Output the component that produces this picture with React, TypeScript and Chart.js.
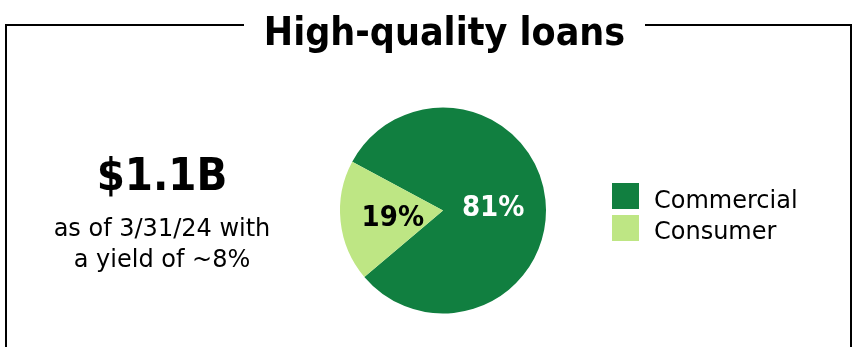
import React, { useEffect, useRef } from "react";
import { Chart, registerables } from "chart.js";

Chart.register(...registerables);

const title = "High-quality loans";
const headline = "$1.1B";
const noteLines = ["as of 3/31/24 with", "a yield of ~8%"];
const categories = ["Commercial", "Consumer"];
const shares = [81, 19];
const sliceColors = ["#117F40", "#BEE684"];
const labelColors = ["#FFFFFF", "#000000"];

const SANS = '"DejaVu Sans", Verdana, sans-serif';
const COND = '"DejaVu Sans Condensed", "DejaVu Sans", sans-serif';

const sliceLabels = {
  id: "sliceLabels",
  afterDatasetsDraw(chart: any) {
    const ctx = chart.ctx;
    const meta = chart.getDatasetMeta(0);
    ctx.save();
    ctx.font = `bold 29px ${COND}`;
    ctx.textAlign = "center";
    ctx.textBaseline = "middle";
    meta.data.forEach((arc: any, i: number) => {
      const p = arc.getProps(["x", "y", "startAngle", "endAngle", "outerRadius"], true);
      const mid = (p.startAngle + p.endAngle) / 2;
      const r = p.outerRadius * 0.49;
      ctx.fillStyle = labelColors[i];
      ctx.fillText(shares[i] + "%", p.x + Math.cos(mid) * r, p.y + Math.sin(mid) * r + 3);
    });
    ctx.restore();
  },
};

function abs(extra: React.CSSProperties): React.CSSProperties {
  return { position: "absolute", whiteSpace: "nowrap", ...extra };
}

export default function App() {
  const ref = useRef<HTMLCanvasElement | null>(null);

  useEffect(() => {
    if (!ref.current) return;
    const chart = new Chart(ref.current, {
      type: "pie",
      data: {
        labels: categories,
        datasets: [
          {
            data: shares,
            backgroundColor: sliceColors,
            borderWidth: 0,
          },
        ],
      },
      options: {
        responsive: false,
        animation: false,
        rotation: -61.8,
        layout: { padding: { left: 340, right: 310, top: 107, bottom: 33 } },
        plugins: {
          legend: { display: false },
          tooltip: { enabled: false },
          title: { display: false },
        },
      },
      plugins: [sliceLabels],
    });
    return () => chart.destroy();
  }, []);

  return (
    <div
      style={{
        position: "fixed",
        left: 0,
        top: 0,
        width: 856,
        height: 347,
        background: "#fff",
        overflow: "hidden",
        fontFamily: SANS,
        color: "#000",
      }}
    >
      <canvas ref={ref} width={856} height={347} style={abs({ left: 0, top: 0, width: 856, height: 347 })} />
      <div
        style={abs({
          left: 5,
          top: 24,
          width: 843,
          height: 400,
          border: "2px solid #000",
          boxSizing: "content-box",
        })}
      />
      <div style={abs({ left: 244, top: 18, width: 401, height: 14, background: "#fff" })} />
      <div
        style={abs({
          left: 244,
          width: 401,
          top: 12,
          textAlign: "center",
          font: `bold 39px/39px ${COND}`,
        })}
      >
        {title}
      </div>
      <div
        style={abs({
          left: 62,
          width: 200,
          top: 152,
          textAlign: "center",
          font: `bold 45px/45px ${COND}`,
        })}
      >
        {headline}
      </div>
      {noteLines.map((t, i) => (
        <div
          key={t}
          style={abs({
            left: 42,
            width: 240,
            top: 215.7 + i * 31,
            textAlign: "center",
            font: `24px/24px ${SANS}`,
          })}
        >
          {t}
        </div>
      ))}
      {categories.map((c, i) => (
        <React.Fragment key={c}>
          <div
            style={abs({
              left: 612,
              top: 183 + i * 32,
              width: 27,
              height: 26,
              background: sliceColors[i],
            })}
          />
          <div style={abs({ left: 654, top: 188 + i * 31, font: `24px/24px ${SANS}` })}>{c}</div>
        </React.Fragment>
      ))}
    </div>
  );
}
